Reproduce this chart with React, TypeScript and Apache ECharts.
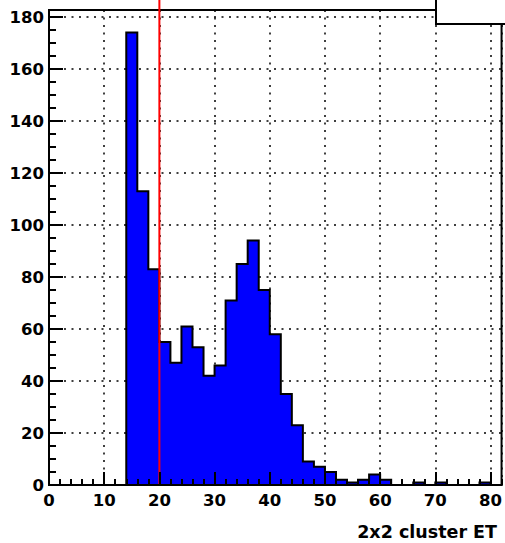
import React, { useEffect, useRef } from "react";
import * as echarts from "echarts";

// Histogram: bin lower edges start at 0, width 2, range 0..82
const BIN_WIDTH = 2;
const X_MIN = 0;
const X_MAX = 82;
const Y_MIN = 0;
const Y_MAX = 182.7;
const counts = [
  0, 0, 0, 0, 0, 0, 0, // 0-14
  174, 113, 83, // 14-20
  55, 47, 61, 53, 42, // 20-30
  46, 71, 85, 94, 75, // 30-40
  58, 35, 23, 9, 7, // 40-50
  5, 2, 1, 2, 4, // 50-60
  2, 0, 0, 1, 0, // 60-70
  1, 0, 0, 0, 1, // 70-80
  0, // 80-82
];
const cutValue = [20];
const xTitle = "2x2 cluster ET";

const FONT = "DejaVu Sans";

export default function App() {
  const ref = useRef<HTMLDivElement>(null);
  useEffect(() => {
    if (!ref.current) return;
    const chart = echarts.init(ref.current, undefined, { renderer: "svg" });
    const stepData: number[][] = counts.map((c, i) => [X_MIN + i * BIN_WIDTH, c]);
    stepData.push([X_MIN + counts.length * BIN_WIDTH, counts[counts.length - 1]]);

    const labelStyle = {
      color: "#000",
      fontFamily: FONT,
      fontWeight: "bold" as const,
      fontSize: 16.5,
    };

    const axisCommon = { type: "value" as const, min: X_MIN, max: X_MAX };
    const yCommon = { type: "value" as const, min: Y_MIN, max: Y_MAX };

    chart.setOption({
      animation: false,
      backgroundColor: "#fff",
      grid: {
        left: 49,
        right: 2,
        top: 10,
        bottom: 58,
        show: true,
        borderColor: "#000",
        borderWidth: 2,
        backgroundColor: "transparent",
      },
      title: {
        text: xTitle,
        right: 8,
        top: 523,
        padding: 0,
        textStyle: {
          color: "#000",
          fontFamily: FONT,
          fontWeight: "bold",
          fontSize: 17.5,
        },
      },
      xAxis: [
        {
          ...axisCommon,
          interval: 10,
          z: 0,
          position: "bottom",
          axisLine: { show: false, onZero: false },
          axisTick: { show: false },
          axisLabel: { show: false },
          splitLine: {
            show: true,
            lineStyle: { color: "#000", width: 1.5, type: [2, 5.5] },
          },
        },
        {
          ...axisCommon,
          interval: 2,
          z: 10,
          position: "bottom",
          axisLine: { show: true, onZero: false, lineStyle: { color: "#000", width: 2 } },
          axisTick: { show: true, inside: true, length: 6, lineStyle: { color: "#000", width: 2 } },
          axisLabel: { show: false },
          splitLine: { show: false },
        },
        {
          ...axisCommon,
          interval: 10,
          z: 10,
          position: "bottom",
          axisLine: { show: false, onZero: false },
          axisTick: { show: true, inside: true, length: 13, lineStyle: { color: "#000", width: 2 } },
          axisLabel: {
            show: true,
            margin: 7,
            showMaxLabel: false,
            ...labelStyle,
            formatter: (v: number) => (v % 10 === 0 ? String(v) : ""),
          },
          splitLine: { show: false },
        },
      ],
      yAxis: [
        {
          ...yCommon,
          interval: 20,
          z: 0,
          position: "left",
          axisLine: { show: false, onZero: false },
          axisTick: { show: false },
          axisLabel: { show: false },
          splitLine: {
            show: true,
            lineStyle: { color: "#000", width: 1.5, type: [2, 5.5] },
          },
        },
        {
          ...yCommon,
          interval: 5,
          z: 10,
          position: "left",
          axisLine: { show: true, onZero: false, lineStyle: { color: "#000", width: 2 } },
          axisTick: { show: true, inside: true, length: 7, lineStyle: { color: "#000", width: 2 } },
          axisLabel: { show: false },
          splitLine: { show: false },
        },
        {
          ...yCommon,
          interval: 20,
          z: 10,
          position: "left",
          axisLine: { show: false, onZero: false },
          axisTick: { show: true, inside: true, length: 14, lineStyle: { color: "#000", width: 2 } },
          axisLabel: {
            show: true,
            margin: 5,
            showMaxLabel: false,
            ...labelStyle,
            formatter: (v: number) => (v % 20 === 0 ? String(v) : ""),
          },
          splitLine: { show: false },
        },
      ],
      series: [
        {
          type: "line",
          xAxisIndex: 0,
          yAxisIndex: 0,
          step: "end",
          data: stepData,
          showSymbol: false,
          symbol: "none",
          z: 2,
          lineStyle: { color: "#000", width: 2, join: "miter" },
          areaStyle: { color: "#0000ff", opacity: 1 },
          emphasis: { disabled: true },
        },
        {
          type: "custom",
          xAxisIndex: 0,
          yAxisIndex: 0,
          clip: false,
          z: 3,
          data: cutValue.map((v) => [v, 0]),
          renderItem: (_params: any, api: any) => {
            const p = api.coord([api.value(0), api.value(1)]);
            return {
              type: "line",
              shape: { x1: p[0], y1: p[1], x2: p[0], y2: 0 },
              style: { stroke: "#ff0000", lineWidth: 2 },
            };
          },
        },
      ],
      graphic: [
        {
          type: "rect",
          z: 100,
          shape: { x: 436, y: -2, width: 80, height: 26 },
          style: { fill: "#fff", stroke: "#000", lineWidth: 2 },
        },
      ],
    });
    return () => chart.dispose();
  }, []);
  return (
    <div
      ref={ref}
      style={{ position: "fixed", left: 0, top: 0, width: 505, height: 543, background: "#fff" }}
    />
  );
}
